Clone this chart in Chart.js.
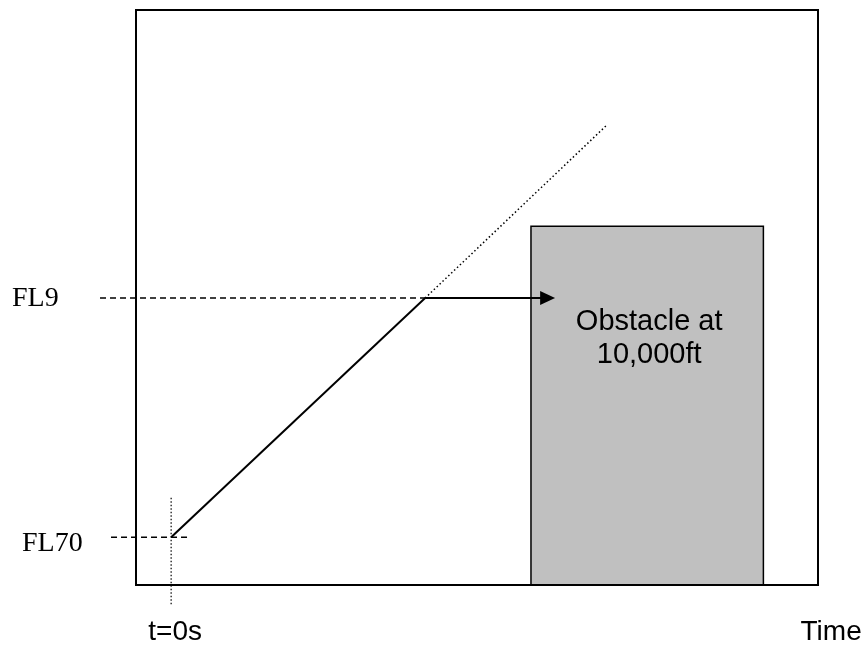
<!DOCTYPE html>
<html>
<head>
<meta charset="utf-8">
<script src="https://cdn.jsdelivr.net/npm/chart.js@4"></script>
<style>
html,body{margin:0;padding:0;background:#fff;}
#c{display:block;}
</style>
</head>
<body>
<canvas id="c" width="867" height="646"></canvas>
<script>
// ---- data (time in seconds, altitude in hundreds of feet) ----
const X_RANGE = [-8.3, 152.8];
const Y_RANGE = [66.0, 114.1];
const climbTime = [0, 60];
const climbAlt = [70, 90];
const projTime = [60, 103];
const projAlt = [90, 104.5];
const fl70Time = [-14.2, 4.3];
const fl70Alt = [70, 70];
const fl9Time = [-16.8, 60];
const fl9Alt = [90, 90];
const arrowTime = [60, 88];
const arrowAlt = [90, 90];
const t0Time = [0, 0];
const t0Alt = [73.3, 64.4];
const obstacleTime = [85, 85, 139.9, 139.9];
const obstacleAlt = [66.0, 96, 96, 66.0];
const levelLabels = ["FL70", "FL9"];
const levelValues = [70, 90];
const timeLabels = ["t=0s", "Time"];
const timeValues = [0, 155.9];
const arrowTip = 90.7;
const obstacleText = ["Obstacle at", "10,000ft"];

const pts = (xs, ys) => xs.map((x, i) => ({x: x, y: ys[i]}));

const base = {showLine: true, pointRadius: 0, borderColor: '#000', fill: false, tension: 0};

const overlay = {
  id: 'overlay',
  afterDatasetsDraw(chart) {
    const {ctx, chartArea: a, scales: {x, y}} = chart;
    ctx.save();
    // frame
    ctx.strokeStyle = '#000';
    ctx.lineWidth = 2;
    ctx.strokeRect(a.left, a.top, a.right - a.left, a.bottom - a.top);
    // arrow head
    const tipX = x.getPixelForValue(arrowTip);
    const tipY = y.getPixelForValue(arrowAlt[1]);
    ctx.fillStyle = '#000';
    ctx.beginPath();
    ctx.moveTo(tipX, tipY);
    ctx.lineTo(tipX - 15, tipY - 7);
    ctx.lineTo(tipX - 15, tipY + 7);
    ctx.closePath();
    ctx.fill();
    // level labels
    ctx.font = '28px "Liberation Serif", "Times New Roman", serif';
    ctx.textBaseline = 'middle';
    ctx.textAlign = 'left';
    ctx.fillText(levelLabels[0], 22, y.getPixelForValue(levelValues[0]) + 6);
    ctx.fillText(levelLabels[1], 12, y.getPixelForValue(levelValues[1]) + 1);
    // time labels
    ctx.font = '28px "Liberation Sans", Arial, sans-serif';
    ctx.textAlign = 'center';
    ctx.fillText(timeLabels[0], x.getPixelForValue(timeValues[0]) + 4, 632);
    ctx.fillText(timeLabels[1], x.getPixelForValue(timeValues[1]), 632);
    // obstacle text
    const cx = (x.getPixelForValue(obstacleTime[0]) + x.getPixelForValue(obstacleTime[2])) / 2 + 2;
    const top = y.getPixelForValue(obstacleAlt[1]);
    ctx.font = '29px "Liberation Sans", Arial, sans-serif';
    ctx.fillText(obstacleText[0], cx, top + 96);
    ctx.fillText(obstacleText[1], cx, top + 129);
    ctx.restore();
  }
};

new Chart(document.getElementById('c'), {
  type: 'scatter',
  data: {
    datasets: [
      Object.assign({}, base, {data: pts(arrowTime, arrowAlt), borderWidth: 2}),
      Object.assign({}, base, {data: pts(climbTime, climbAlt), borderWidth: 2}),
      Object.assign({}, base, {data: pts(projTime, projAlt), borderWidth: 1.5, borderDash: [1.5, 2.5]}),
      Object.assign({}, base, {data: pts(fl70Time, fl70Alt), borderWidth: 1.5, borderDash: [6, 4], clip: false}),
      Object.assign({}, base, {data: pts(fl9Time, fl9Alt), borderWidth: 1.5, borderDash: [6, 4], clip: false}),
      Object.assign({}, base, {data: pts(t0Time, t0Alt), borderWidth: 1.2, borderDash: [1.5, 2], clip: false}),
      Object.assign({}, base, {data: pts(obstacleTime, obstacleAlt), fill: 'start', backgroundColor: '#c0c0c0', borderWidth: 1.5})
    ]
  },
  options: {
    responsive: false,
    animation: false,
    layout: {padding: {left: 136, top: 10, right: 49, bottom: 61}},
    plugins: {legend: {display: false}, tooltip: {enabled: false}},
    scales: {
      x: {type: 'linear', min: X_RANGE[0], max: X_RANGE[1], display: false},
      y: {type: 'linear', min: Y_RANGE[0], max: Y_RANGE[1], display: false}
    }
  },
  plugins: [overlay]
});
</script>
</body>
</html>
